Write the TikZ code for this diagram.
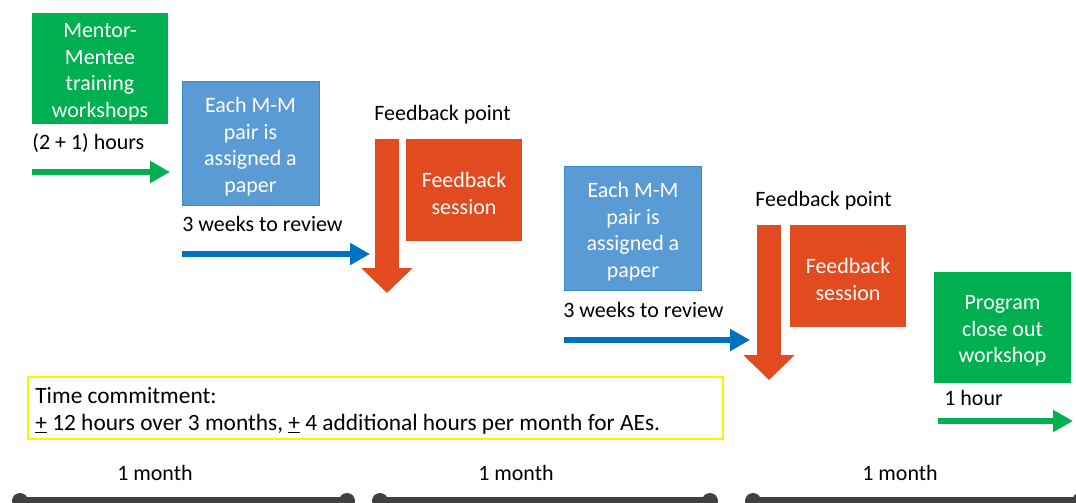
\documentclass[tikz,border=0pt]{standalone}
\usepackage{fontspec}
\setmainfont{Carlito}
\usetikzlibrary{arrows.meta, positioning}
\definecolor{mgreen}{RGB}{0,176,80}
\definecolor{mblue}{RGB}{91,155,213}
\definecolor{mdblue}{RGB}{0,112,192}
\definecolor{morange}{RGB}{226,75,32}
\definecolor{mgray}{RGB}{64,64,64}

\begin{document}
\begin{tikzpicture}[x=0.02cm, y=-0.02cm,
      every node/.style={font=\fontsize{12.5}{15}\selectfont},
      box/.style={inner sep=0pt},
      boxtxt/.style={inner sep=0pt, text=white, align=center, yshift=-2pt, font=\fontsize{12.5}{15.1}\selectfont},
      gbox/.style={box, fill=mgreen, minimum width=2.74cm, minimum height=2.22cm},
      bbox/.style={box, fill=mblue, draw=mdblue!80, line width=0.5pt, minimum width=2.74cm, minimum height=2.48cm},
      obox/.style={box, fill=morange, minimum width=2.32cm, minimum height=2.04cm},
      lbl/.style={anchor=west, inner sep=0pt},
      garr/.style={-{Triangle[length=0.4cm, width=0.42cm]}, line width=3.4pt, mgreen},
      barr/.style={-{Triangle[length=0.4cm, width=0.42cm]}, line width=3.4pt, mdblue},
      oarr/.style={-{Triangle[length=0.5cm, width=1cm]}, line width=0.48cm, morange},
      month/.style={line width=5pt, mgray},
      dot/.style={circle, fill=mgray, inner sep=0pt, minimum size=0.32cm},
    ]
    \useasboundingbox (0,0) rectangle (1076,503);

    % first stage
    \node[gbox] (train) at (100,68.5) {};
    \node[boxtxt] (traintxt) at (train) {Mentor-\\Mentee\\training\\workshops};
    \node[lbl] (trainlbl) at (32,143) {(2 + 1) hours};
    \coordinate (ga1) at (32,172);
    \coordinate (gb1) at (170,172);
    \draw[garr] (ga1) -- (gb1);

    \node[bbox] (pair1) at (250.5,143) {};
    \node[boxtxt] (pair1txt) at (pair1) {Each M-M\\pair is\\assigned a\\paper};
    \node[lbl] (rev1) at (182,224) {3 weeks to review};
    \coordinate (ba1) at (182,254);
    \coordinate (bb1) at (370,254);
    \draw[barr] (ba1) -- (bb1);

    \node[lbl] (fp1) at (374,115) {Feedback point};
    \coordinate (oa1) at (387,139);
    \coordinate (ob1) at (387,293);
    \draw[oarr] (oa1) -- (ob1);
    \node[obox] (fs1) at (464,190) {};
    \node[boxtxt] (fs1txt) at (fs1) {Feedback\\session};

    % second stage
    \node[bbox] (pair2) at (633,228) {};
    \node[boxtxt] (pair2txt) at (pair2) {Each M-M\\pair is\\assigned a\\paper};
    \node[lbl] (rev2) at (563,310) {3 weeks to review};
    \coordinate (ba2) at (564,340);
    \coordinate (bb2) at (750,340);
    \draw[barr] (ba2) -- (bb2);

    \node[lbl] (fp2) at (755,201) {Feedback point};
    \coordinate (oa2) at (769,225);
    \coordinate (ob2) at (769,380);
    \draw[oarr] (oa2) -- (ob2);
    \node[obox] (fs2) at (848,276) {};
    \node[boxtxt] (fs2txt) at (fs2) {Feedback\\session};

    % close out
    \node[gbox] (close) at (1002.5,327.5) {};
    \node[boxtxt] (closetxt) at (close) {Program\\close out\\workshop};
    \node[lbl] (closelbl) at (944,398) {1 hour};
    \coordinate (ga2) at (938,421);
    \coordinate (gb2) at (1073,421);
    \draw[garr] (ga2) -- (gb2);

    % time commitment
    \node[draw=yellow, line width=1.3pt, minimum width=13.9cm, minimum height=1.24cm,
      anchor=north west, inner sep=0pt] (commit) at (27,376) {};
    \node[lbl, align=left, anchor=north west, font=\fontsize{13.3}{15.3}\selectfont] (committxt) at (35,387)
      {Time commitment:\\\underline{+} 12 hours over 3 months, \underline{+} 4 additional hours per month for AEs.};

    % months
    \node (m1) at (155,473) {1 month};
    \node (m2) at (516,473) {1 month};
    \node (m3) at (900,473) {1 month};
    \node[dot] (d1a) at (20,501) {};
    \node[dot] (d1b) at (347,501) {};
    \node[dot] (d2a) at (380,501) {};
    \node[dot] (d2b) at (710,501) {};
    \node[dot] (d3a) at (753,501) {};
    \node[dot] (d3b) at (1080,501) {};
    \draw[month] (d1a.center) -- (d1b.center);
    \draw[month] (d2a.center) -- (d2b.center);
    \draw[month] (d3a.center) -- (d3b.center);
  \end{tikzpicture}
\end{document}
